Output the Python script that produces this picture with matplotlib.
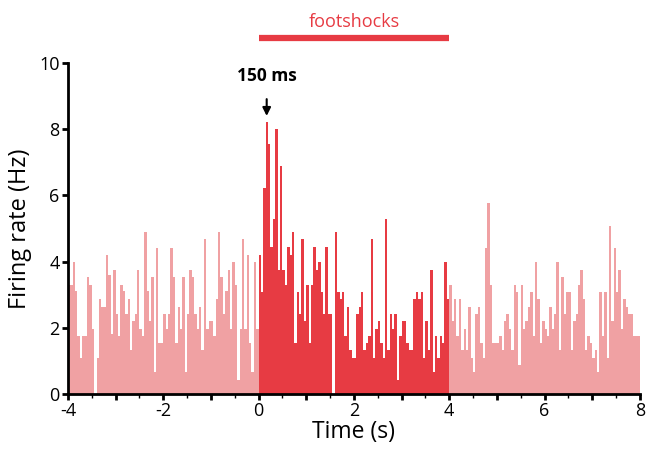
import numpy as np
import matplotlib.pyplot as plt

plt.rcParams['font.family'] = ['Open Sans', 'DejaVu Sans']

# firing rate (Hz) in 50 ms bins, -4..8 s
bin_width = 0.05
rate_pre = [3.3, 3.3, 4.0, 3.1, 1.76, 1.09, 1.76, 1.76, 3.55, 3.3,
            1.97, 0, 1.09, 2.88, 2.64, 2.64, 4.2, 3.6, 1.8,
            3.76, 2.42, 1.76, 3.3, 3.1, 2.42, 2.88, 1.33, 2.2, 2.42,
            3.76, 1.97, 1.76, 4.88, 3.1, 2.2, 3.55, 0.67,
            4.42, 1.55, 1.55, 2.42, 1.97, 2.42, 4.42, 3.55, 1.55, 2.64,
            1.97, 3.55, 0.67, 2.42, 3.76, 3.55, 2.42, 1.97, 2.64, 1.33,
            4.67, 1.97, 2.2, 2.2, 1.76, 2.88, 4.88, 3.55, 2.42, 3.1,
            3.76, 1.97, 4.0, 3.3, 0.42, 1.97, 4.67, 1.97, 4.2, 1.55,
            0.67, 4.0, 1.97]
rate_shock = [4.21, 3.09, 6.21, 8.21, 7.55, 4.43, 5.3, 8.0, 3.76, 6.88,
              3.76, 3.3, 4.43, 4.21, 4.88, 1.55, 3.09, 2.42, 4.67, 2.21,
              3.3, 1.55, 3.3, 4.43, 3.76, 4.0, 3.09, 2.42, 4.43, 2.42,
              2.42, 0, 4.88, 3.09, 2.88, 3.09, 1.76, 2.64,
              1.33, 1.09, 1.09, 2.42, 2.64, 3.09, 1.33, 1.55, 1.76, 4.67,
              1.09, 1.97, 2.21, 1.55, 1.09, 5.3, 1.33, 2.42, 1.97, 2.42,
              0.42, 1.76, 2.21, 2.21, 1.55, 1.33, 1.33, 2.88, 3.09, 2.88,
              3.09, 1.09, 2.21, 1.33, 3.76, 0.67, 1.76, 1.09, 1.76, 1.55,
              4.0, 2.88]
rate_post = [3.3, 2.21, 2.88, 1.76, 2.88, 1.33, 1.97, 1.33, 2.64, 1.09,
             0.67, 2.42, 2.64, 1.55, 1.09, 4.42, 5.76, 3.3, 1.55, 1.55,
             1.55, 1.76, 1.33, 2.21, 2.42, 1.97, 1.33, 3.3, 3.09, 0.88,
             3.3, 1.97, 2.21, 2.64, 3.09, 1.76, 4.0, 2.88,
             1.55, 2.21, 1.97, 1.76, 2.64, 1.97, 2.42, 4.0, 1.33, 3.55,
             2.42, 3.09, 3.09, 1.33, 2.21, 2.42, 3.3, 3.76, 2.88, 1.33,
             1.76, 1.55, 1.09, 1.33, 0.67, 3.09, 1.76, 3.09, 1.09, 5.09,
             2.21, 4.42, 3.09, 3.76, 1.97, 2.88, 2.64, 2.42, 2.42, 1.76,
             1.76, 1.76]

t_pre = -4 + bin_width * np.arange(len(rate_pre))
t_shock = 0 + bin_width * np.arange(len(rate_shock))
t_post = 4 + bin_width * np.arange(len(rate_post))

light = '#F0A1A3'
dark = '#E73B43'

fig = plt.figure(figsize=(6.47, 4.5), dpi=100)
ax = fig.add_axes([0.105, 0.1244, 0.884, 0.7356])

ax.bar(t_pre, rate_pre, width=bin_width, align='edge', color=light, linewidth=0)
ax.bar(t_shock, rate_shock, width=bin_width, align='edge', color=dark, linewidth=0)
ax.bar(t_post, rate_post, width=bin_width, align='edge', color=light, linewidth=0)

ax.set_xlim(-4, 8)
ax.set_ylim(0, 10)
ax.spines['top'].set_visible(False)
ax.spines['right'].set_visible(False)
for s in ['left', 'bottom']:
    ax.spines[s].set_linewidth(2)

ax.set_xticks(np.arange(-4, 9, 1))
ax.set_xticklabels([str(v) if v % 2 == 0 else '' for v in range(-4, 9)])
ax.set_xticks(np.arange(-4, 8.5, 0.5), minor=True)
ax.set_yticks(np.arange(0, 11, 2))
ax.tick_params(axis='both', which='major', direction='out', length=4, width=2,
               labelsize=13, pad=2)
ax.tick_params(axis='x', which='minor', direction='out', length=3, width=1)

ax.set_xlabel('Time (s)', fontsize=16.5, labelpad=0)
ax.set_ylabel('Firing rate (Hz)', fontsize=17, labelpad=5)

# footshock period bar
ax.plot([0, 4], [10.76, 10.76], color=dark, linewidth=4.5, clip_on=False,
        solid_capstyle='butt')
ax.text(2, 11.25, 'footshocks', color=dark, fontsize=13, ha='center',
        va='center', clip_on=False)

ax.annotate('150 ms', xy=(0.17, 8.4), xytext=(0.17, 9.6),
            ha='center', va='center', fontsize=12.5, fontweight='bold',
            arrowprops=dict(arrowstyle='-|>', color='black', lw=1.5,
                            shrinkA=8, shrinkB=0, mutation_scale=12))

fig.savefig('out.png', dpi=100)
